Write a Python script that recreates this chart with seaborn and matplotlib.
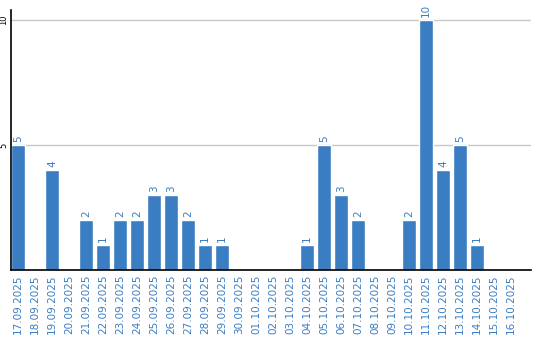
import matplotlib
matplotlib.use("Agg")
import matplotlib.pyplot as plt
import seaborn as sns
import pandas as pd

dates = ["17.09.2025", "18.09.2025", "19.09.2025", "20.09.2025", "21.09.2025",
         "22.09.2025", "23.09.2025", "24.09.2025", "25.09.2025", "26.09.2025",
         "27.09.2025", "28.09.2025", "29.09.2025", "30.09.2025", "01.10.2025",
         "02.10.2025", "03.10.2025", "04.10.2025", "05.10.2025", "06.10.2025",
         "07.10.2025", "08.10.2025", "09.10.2025", "10.10.2025", "11.10.2025",
         "12.10.2025", "13.10.2025", "14.10.2025", "15.10.2025", "16.10.2025"]
values = [5, 0, 4, 0, 2, 1, 2, 2, 3, 3, 2, 1, 1, 0, 0, 0, 0, 1, 5, 3, 2, 0, 0,
          2, 10, 4, 5, 1, 0, 0]
yticks = [5, 10]

df = pd.DataFrame({"date": dates, "value": values})
blue = "#3b7dc2"

sns.set_style("white")
plt.rcParams["font.family"] = ["DejaVu Sans"]

fig = plt.figure(figsize=(5.4, 3.4), dpi=100)
ax = fig.add_axes([11 / 540, 1 - 270 / 340, 520 / 540, 260 / 340])
width = 0.82
sns.barplot(data=df, x="date", y="value", color=blue, width=width,
            saturation=1, ax=ax, zorder=3)

for i, v in enumerate(values):
    if v > 0:
        ax.text(i, v + 0.12, str(v), rotation=90, ha="center", va="bottom",
                color=blue, fontsize=7.5, clip_on=False)

ax.set_xlim(-width / 2, 30.18)
ax.set_ylim(0, 10.4)
ax.set_yticks(yticks)
ax.set_yticklabels([str(t) for t in yticks], rotation=90, va="center",
                   fontsize=6, color="black")
ax.yaxis.grid(True, color="#c8c8c8", linewidth=1, zorder=0)
ax.tick_params(axis="y", length=0, pad=2)
ax.tick_params(axis="x", length=0, pad=3)
ax.set_xticks(range(len(dates)))
ax.set_xticklabels(dates, rotation=90, fontsize=7.5, color=blue)
ax.set_xlabel("")
ax.set_ylabel("")
for s in ["top", "right"]:
    ax.spines[s].set_visible(False)
for s in ["left", "bottom"]:
    ax.spines[s].set_color("black")
    ax.spines[s].set_linewidth(1.2)
    ax.spines[s].set_zorder(5)

fig.savefig("out.png", dpi=100)
